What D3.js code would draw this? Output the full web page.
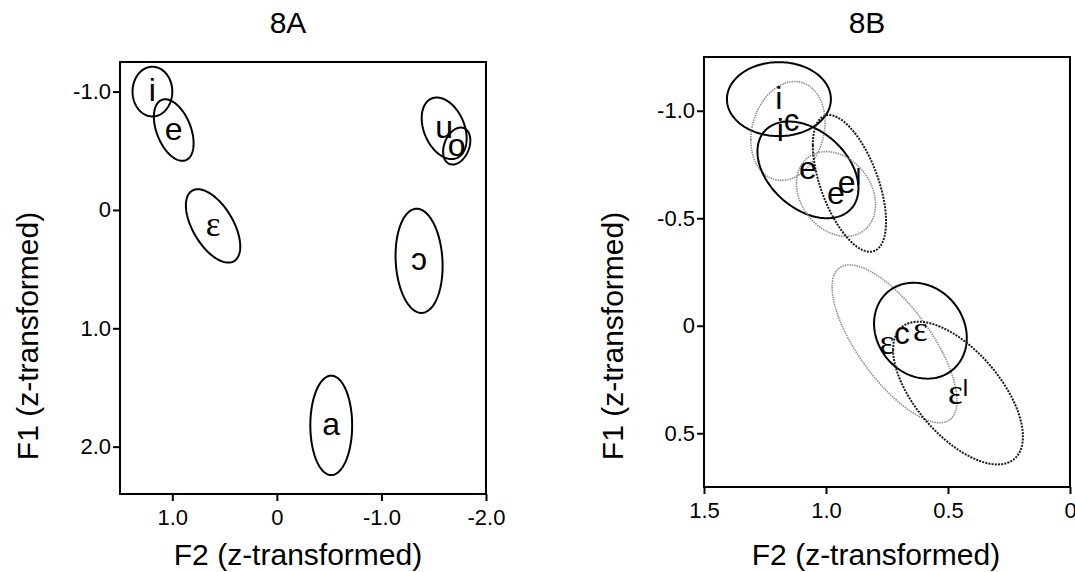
<!DOCTYPE html>
<html>
<head>
<meta charset="utf-8">
<script src="https://cdn.jsdelivr.net/npm/d3@7"></script>
<style>
  html, body { margin: 0; padding: 0; background: #fff; }
  svg { display: block; }
</style>
</head>
<body>
<svg id="chart" width="1075" height="572"></svg>
<script>
// ---------------- DATA ----------------
// Panel 8A: vowel ellipses (mean, SD and F2-F1 correlation, z-scores)
const vowelsA  = ["i", "e", "ε", "u", "o", "ɔ", "a"];
const f2MeanA  = [1.19, 0.986, 0.61, -1.60, -1.72, -1.36, -0.52];
const f1MeanA  = [-1.00, -0.675, 0.135, -0.69, -0.54, 0.43, 1.82];
const f2SdA    = [0.19, 0.19, 0.26, 0.215, 0.13, 0.225, 0.20];
const f1SdA    = [0.21, 0.26, 0.31, 0.26, 0.156, 0.44, 0.42];
const rhoA     = [0.0, -0.43, -0.56, -0.33, 0.30, -0.10, 0.0];

// Panel 8B: front vowels in three conditions
const vowelsB  = ["i", "i", "e", "e", "e", "ε", "ε", "ε"];
const supB     = ["", "c", "", "", "l", "c", "", "l"];
const condB    = ["plain", "c", "plain", "c", "l", "c", "plain", "l"];
const f2MeanB  = [1.193, 1.156, 1.074, 0.959, 0.904, 0.719, 0.613, 0.459];
const f1MeanB  = [-1.054, -0.906, -0.725, -0.613, -0.662, 0.084, 0.023, 0.313];
const f2SdB    = [0.213, 0.152, 0.207, 0.162, 0.150, 0.256, 0.190, 0.266];
const f1SdB    = [0.172, 0.230, 0.225, 0.197, 0.318, 0.367, 0.223, 0.332];
const rhoB     = [0.0, 0.18, -0.38, -0.25, -0.56, -0.72, -0.15, -0.61];

// Axes
const xTicksA = [1.0, 0, -1.0, -2.0];
const xTickLabelsA = ["1.0", "0", "-1.0", "-2.0"];
const yTicksA = [-1.0, 0, 1.0, 2.0];
const yTickLabelsA = ["-1.0", "0", "1.0", "2.0"];
const xTicksB = [1.5, 1.0, 0.5, 0];
const xTickLabelsB = ["1.5", "1.0", "0.5", "0"];
const yTicksB = [-1.0, -0.5, 0, 0.5];
const yTickLabelsB = ["-1.0", "-0.5", "0", "0.5"];

const titles = ["8A", "8B"];
const xTitle = "F2 (z-transformed)";
const yTitle = "F1 (z-transformed)";

// ---------------- DRAWING ----------------
const SANS = "'Liberation Sans', Arial, Helvetica, 'DejaVu Sans', sans-serif";
const SERIF = "'Liberation Serif', 'Times New Roman', 'DejaVu Serif', serif";
const svg = d3.select("#chart");

const condStyle = {
  plain: { stroke: "#000", width: 2, dash: null },
  c:     { stroke: "#8a8a8a", width: 1.6, dash: "1.4,1" },
  l:     { stroke: "#1a1a1a", width: 2, dash: "2,1.2" }
};

function ellipsePoints(cx, cy, sx, sy, rho, xs, ys) {
  const n = 160, k = Math.sqrt(1 - rho * rho);
  return d3.range(n).map(i => {
    const t = 2 * Math.PI * i / n;
    return [xs(cx + sx * Math.cos(t)), ys(cy + sy * (rho * Math.cos(t) + k * Math.sin(t)))];
  });
}
const lineGen = d3.line().curve(d3.curveLinearClosed);

function drawPanel(cfg) {
  const g = svg.append("g");
  const xs = d3.scaleLinear().domain(cfg.xDomain).range([cfg.left, cfg.right]);
  const ys = d3.scaleLinear().domain(cfg.yDomain).range([cfg.top, cfg.bottom]);

  // ellipses
  cfg.vowels.forEach((v, i) => {
    const st = condStyle[cfg.cond ? cfg.cond[i] : "plain"];
    g.append("path")
      .attr("d", lineGen(ellipsePoints(cfg.f2[i], cfg.f1[i], cfg.sx[i], cfg.sy[i], cfg.rho[i], xs, ys)))
      .attr("fill", "none")
      .attr("stroke", st.stroke)
      .attr("stroke-width", st.width)
      .attr("stroke-dasharray", st.dash);
  });

  // labels
  cfg.vowels.forEach((v, i) => {
    const isEps = v === "ε";
    const t = g.append("text")
      .attr("x", xs(cfg.f2[i]))
      .attr("y", ys(cfg.f1[i]))
      .attr("text-anchor", "middle")
      .attr("fill", "#000");
    t.append("tspan")
      .attr("dy", "0.3em")
      .attr("font-family", isEps ? SERIF : SANS)
      .attr("font-size", isEps ? 35 : 32)
      .text(v);
    const s = cfg.sup ? cfg.sup[i] : "";
    if (s) {
      t.append("tspan")
        .attr("font-family", SANS)
        .attr("font-size", s === "l" ? 24 : 31)
        .attr("dy", s === "l" ? -8 : -10)
        .text(s);
    }
  });

  // frame
  g.append("rect")
    .attr("x", cfg.left).attr("y", cfg.top)
    .attr("width", cfg.right - cfg.left).attr("height", cfg.bottom - cfg.top)
    .attr("fill", "none").attr("stroke", "#000").attr("stroke-width", 2);

  // axes
  const xAxis = d3.axisBottom(xs).tickValues(cfg.xTicks)
    .tickFormat((d, i) => cfg.xTickLabels[i]).tickSize(7).tickSizeOuter(0).tickPadding(8);
  const yAxis = d3.axisLeft(ys).tickValues(cfg.yTicks)
    .tickFormat((d, i) => cfg.yTickLabels[i]).tickSize(7).tickSizeOuter(0).tickPadding(2);

  const gx = g.append("g").attr("transform", `translate(0,${cfg.bottom})`).call(xAxis);
  const gy = g.append("g").attr("transform", `translate(${cfg.left},0)`).call(yAxis);
  [gx, gy].forEach(a => {
    a.select(".domain").remove();
    a.selectAll(".tick line").attr("stroke", "#000").attr("stroke-width", 2);
    a.selectAll(".tick text").attr("fill", "#000")
      .attr("font-family", SANS).attr("font-size", 22);
  });

  // titles
  g.append("text")
    .attr("x", cfg.titleX).attr("y", 33)
    .attr("text-anchor", "middle")
    .attr("font-family", SANS).attr("font-size", 30).attr("fill", "#000")
    .text(cfg.title);
  g.append("text")
    .attr("x", cfg.xTitleX).attr("y", 565)
    .attr("text-anchor", "middle")
    .attr("font-family", SANS).attr("font-size", 30).attr("fill", "#000")
    .text(xTitle);
  g.append("text")
    .attr("transform", `translate(${cfg.yTitleX},336) rotate(-90)`)
    .attr("text-anchor", "middle")
    .attr("font-family", SANS).attr("font-size", 30).attr("fill", "#000")
    .text(yTitle);
}

drawPanel({
  left: 120, right: 486, top: 62, bottom: 494,
  xDomain: [1.5, -2.0], yDomain: [-1.25, 2.4],
  vowels: vowelsA, f2: f2MeanA, f1: f1MeanA, sx: f2SdA, sy: f1SdA, rho: rhoA,
  xTicks: xTicksA, xTickLabels: xTickLabelsA, yTicks: yTicksA, yTickLabels: yTickLabelsA,
  title: titles[0], titleX: 288, xTitleX: 298, yTitleX: 38
});

drawPanel({
  left: 704, right: 1070, top: 57, bottom: 487,
  xDomain: [1.5, 0], yDomain: [-1.25, 0.75],
  vowels: vowelsB, sup: supB, cond: condB,
  f2: f2MeanB, f1: f1MeanB, sx: f2SdB, sy: f1SdB, rho: rhoB,
  xTicks: xTicksB, xTickLabels: xTickLabelsB, yTicks: yTicksB, yTickLabels: yTickLabelsB,
  title: titles[1], titleX: 867, xTitleX: 876, yTitleX: 623
});
</script>
</body>
</html>
